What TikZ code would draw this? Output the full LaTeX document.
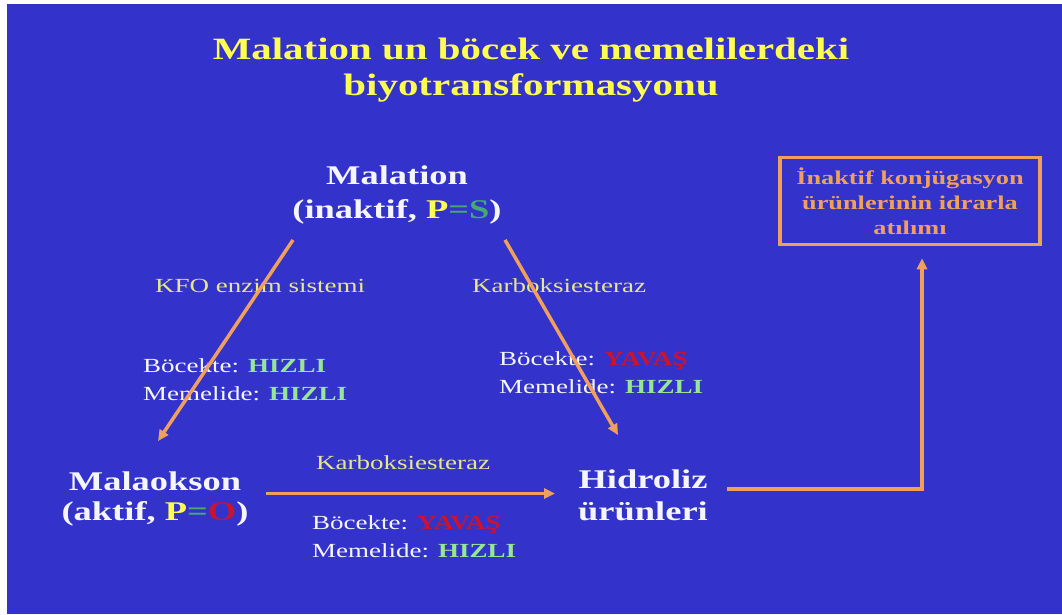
\documentclass[tikz,border=0pt]{standalone}
\usepackage{fontspec}
\setmainfont{Liberation Serif}[FakeStretch=1.35]
\newfontfamily\headfont{Liberation Serif}[FakeStretch=1.32]
\usepackage{tikz}
\usetikzlibrary{positioning,arrows.meta}

\definecolor{slideblue}{RGB}{51,51,204}
\definecolor{arroworange}{RGB}{240,160,90}
\definecolor{titleyellow}{RGB}{255,255,80}
\definecolor{enzymeyellow}{RGB}{230,230,140}
\definecolor{fastgreen}{RGB}{150,230,150}
\definecolor{slowred}{RGB}{200,20,50}
\definecolor{labelwhite}{RGB}{245,245,255}
\definecolor{psulfur}{RGB}{70,170,110}

\newcommand{\fast}{\textcolor{fastgreen}{\bfseries HIZLI}}
\newcommand{\slow}{\textcolor{slowred}{\bfseries YAVAŞ}}

\tikzset{
  headline/.style={font=\headfont\fontsize{31}{36}\selectfont\bfseries, align=center, inner sep=0pt, anchor=base},
  compound/.style={text=labelwhite, font=\fontsize{27}{34}\selectfont\bfseries, align=center, inner sep=0pt, anchor=base},
  enzyme/.style={text=enzymeyellow, font=\fontsize{20}{24}\selectfont, inner sep=0pt, anchor=base west},
  rate/.style={text=labelwhite, font=\fontsize{20}{28}\selectfont, align=left, inner sep=0pt, anchor=base west},
  flow/.style={draw=arroworange, line width=3.5pt, -{Triangle[length=11pt,width=10pt]}},
}

\begin{document}
\begin{tikzpicture}[x=1pt,y=-1pt]
\useasboundingbox (0,0) rectangle (1062,614);
\fill[white] (0,0) rectangle (1062,614);
\fill[slideblue] (7,4) rectangle (1062,614);

%Nodes
\node[headline, text=titleyellow] (title) at (531,95)
    {Malation un böcek ve memelilerdeki\\biyotransformasyonu};

\node[compound] (malation)  at (397,218)
    {Malation\\(inaktif, \textcolor{titleyellow}{P}\textcolor{psulfur}{=S})};
\node[compound, font=\fontsize{27}{30}\selectfont\bfseries] (malaokson) at (155,520)
    {Malaokson\\(aktif, \textcolor{titleyellow}{P}\textcolor{psulfur}{=}\textcolor{slowred}{O})};
\node[compound, font=\fontsize{27}{32}\selectfont\bfseries] (hidroliz)  at (643,520)
    {Hidroliz\\ürünleri};

\node[draw=arroworange, line width=3.5pt, text=arroworange, align=center,
      font=\fontsize{19.5}{25}\selectfont\bfseries,
      minimum width=260pt, minimum height=87pt] (excretion) at (910,201)
    {İnaktif konjügasyon\\ürünlerinin idrarla\\atılımı};

\node[enzyme] (kfo)   at (155,292) {KFO enzim sistemi};
\node[enzyme] (karbA) at (472,292) {Karboksiesteraz};
\node[enzyme] (karbB) at (316,469) {Karboksiesteraz};

\node[rate] (rateA) at (143,400) {Böcekte: \fast\\Memelide: \fast};
\node[rate] (rateB) at (499,393) {Böcekte: \slow\\Memelide: \fast};
\node[rate] (rateC) at (312,557) {Böcekte: \slow\\Memelide: \fast};

%Lines
\draw[flow] ([xshift=-104pt,yshift=-16pt]malation.south)
    -- ([xshift=3pt,yshift=30pt]malaokson.north);
\draw[flow] ([xshift=108pt,yshift=-16pt]malation.south)
    -- ([xshift=-25pt,yshift=34pt]hidroliz.north);
\draw[flow] ([xshift=17pt,yshift=5pt]malaokson.east)
    -- ([xshift=-23pt,yshift=5pt]hidroliz.west |- malaokson.east);
\draw[flow] ([xshift=19pt,yshift=6pt]hidroliz.east)
    -| ([xshift=12pt,yshift=-12pt]excretion.south);
\end{tikzpicture}
\end{document}
